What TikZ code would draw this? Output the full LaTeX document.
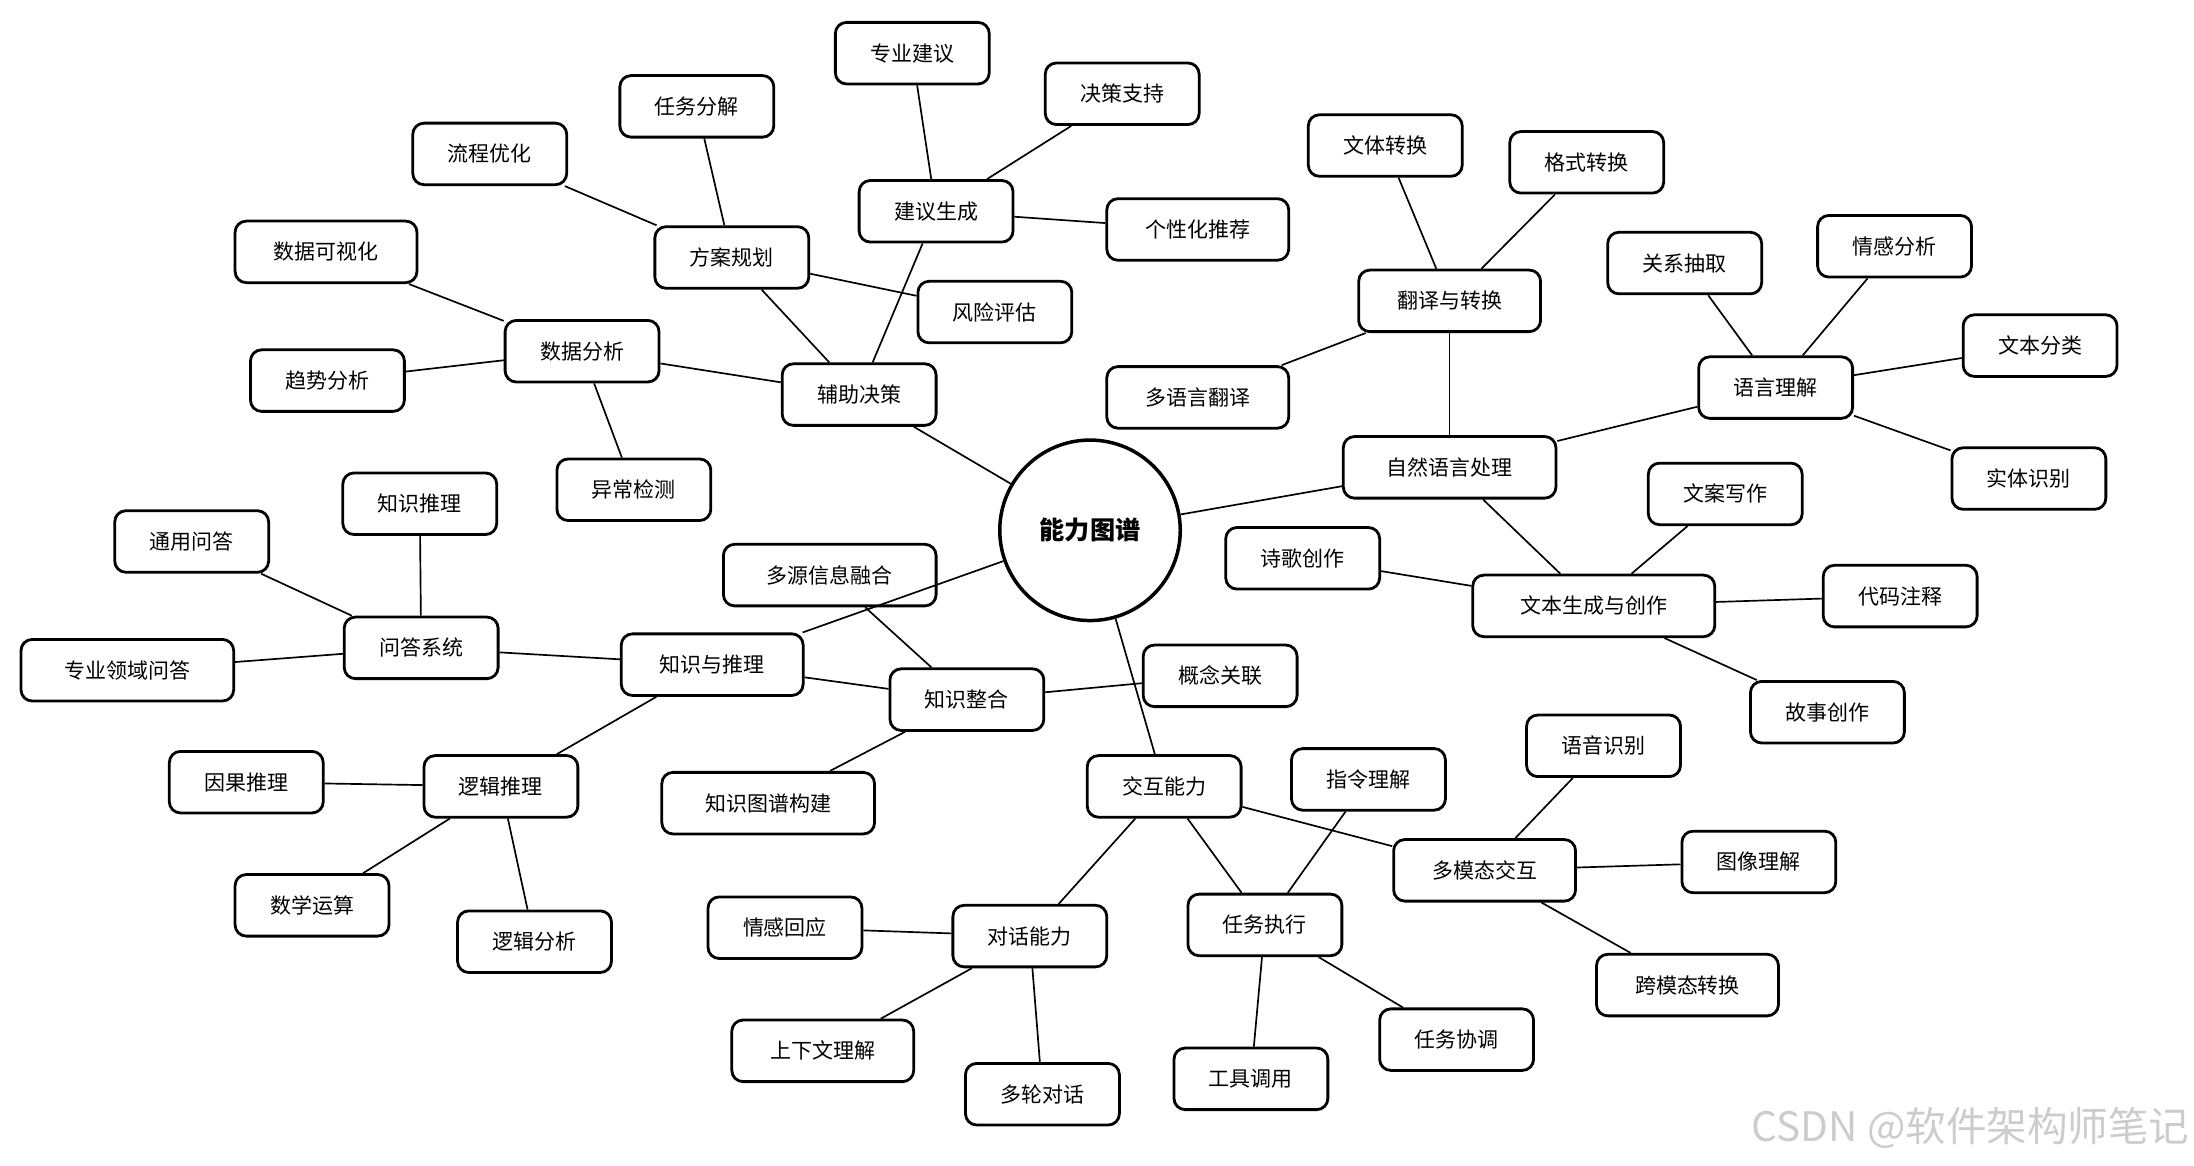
\documentclass[tikz,border=0pt]{standalone}
\usepackage{fontspec}
\setmainfont{Noto Sans CJK SC}
\begin{document}
\begin{tikzpicture}[x=1pt,y=-1pt,
  box/.style={draw=black, line width=2pt, rounded corners=8pt, fill=white,
    minimum height=44pt, minimum width=110pt, inner xsep=5pt, inner ysep=0pt,
    font=\fontsize{15}{18}\selectfont},
  wfive/.style={box, minimum width=130pt},
  wsix/.style={box, minimum width=152pt},
  wseven/.style={box, minimum width=173pt},
  hub/.style={draw=black, line width=2.5pt, circle, fill=white, minimum size=129pt,
    inner sep=0pt, font=\fontsize{18}{21}\selectfont\bfseries},
  link/.style={draw=black, line width=1.2pt}]
\useasboundingbox (0,0) rectangle (1568,833);
% hub
\node[hub] (c) at (779,379) {能力图谱};
% decision branch
\node[box] (fzjc) at (614,282) {辅助决策};
\node[box] (fagh) at (523,184) {方案规划};
\node[box] (jysc) at (669,151) {建议生成};
\node[box] (sjfx) at (416,251) {数据分析};
\node[box] (rwfj) at (498,76) {任务分解};
\node[box] (lcyh) at (350,110) {流程优化};
\node[box] (fxpg) at (711,223) {风险评估};
\node[box] (zyjy) at (652,38) {专业建议};
\node[box] (jczc) at (802,67) {决策支持};
\node[wfive] (gxhtj) at (856,164) {个性化推荐};
\node[wfive] (sjksh) at (233,180) {数据可视化};
\node[box] (qsfx) at (234,272) {趋势分析};
\node[box] (ycjc) at (453,350) {异常检测};
% knowledge branch
\node[wfive] (zsyl) at (509,475) {知识与推理};
\node[box] (wdxt) at (301,463) {问答系统};
\node[box] (ljtl) at (358,562) {逻辑推理};
\node[box] (zszh) at (691,500) {知识整合};
\node[box] (zstl) at (300,360) {知识推理};
\node[box] (tywd) at (137,387) {通用问答};
\node[wsix] (zylywd) at (91,479) {专业领域问答};
\node[wsix] (dyxx) at (593,411) {多源信息融合};
\node[box] (gngl) at (872,483) {概念关联};
\node[wsix] (zstp) at (549,574) {知识图谱构建};
\node[box] (ygtl) at (176,559) {因果推理};
\node[box] (sxys) at (223,647) {数学运算};
\node[box] (ljfx) at (382,673) {逻辑分析};
% interaction branch
\node[box] (hhnl) at (832,562) {交互能力};
\node[box] (dhnl) at (736,669) {对话能力};
\node[box] (rwzx) at (904,661) {任务执行};
\node[wfive] (dmt) at (1061,622) {多模态交互};
\node[box] (qghy) at (561,663) {情感回应};
\node[wfive] (sxwlj) at (588,751) {上下文理解};
\node[box] (dldh) at (745,782) {多轮对话};
\node[box] (zllj) at (978,557) {指令理解};
\node[box] (gjdy) at (894,771) {工具调用};
\node[box] (rwxt) at (1041,743) {任务协调};
\node[box] (yysb) at (1146,533) {语音识别};
\node[box] (txlj) at (1257,616) {图像理解};
\node[wfive] (kmt) at (1206,704) {跨模态转换};
% NLP branch
\node[wsix] (zryy) at (1036,334) {自然语言处理};
\node[wfive] (fyzh) at (1036,215) {翻译与转换};
\node[box] (yylj) at (1269,277) {语言理解};
\node[wseven] (wbsc) at (1139,433) {文本生成与创作};
\node[box] (wtzh) at (990,104) {文体转换};
\node[box] (gszh) at (1134,116) {格式转换};
\node[wfive] (dyyfy) at (856,284) {多语言翻译};
\node[box] (gxcq) at (1204,188) {关系抽取};
\node[box] (qgfx) at (1354,176) {情感分析};
\node[box] (wbfl) at (1458,247) {文本分类};
\node[box] (stsb) at (1450,342) {实体识别};
\node[box] (waxz) at (1233,353) {文案写作};
\node[box] (sgcz) at (931,399) {诗歌创作};
\node[box] (dmzs) at (1358,426) {代码注释};
\node[box] (gscz) at (1306,509) {故事创作};
% watermark
\node[font=\fontsize{29}{32}\selectfont, text=black!20, anchor=east, inner sep=0pt] (wm) at (1565,806) {CSDN @软件架构师笔记};
% connectors
\foreach \a/\b in {c/fzjc, c/zsyl, c/hhnl, c/zryy,
  fzjc/fagh, fzjc/jysc, fzjc/sjfx,
  fagh/rwfj, fagh/lcyh, fagh/fxpg,
  jysc/zyjy, jysc/jczc, jysc/gxhtj,
  sjfx/sjksh, sjfx/qsfx, sjfx/ycjc,
  zsyl/wdxt, zsyl/ljtl, zsyl/zszh,
  wdxt/zstl, wdxt/tywd, wdxt/zylywd,
  zszh/dyxx, zszh/gngl, zszh/zstp,
  ljtl/ygtl, ljtl/sxys, ljtl/ljfx,
  hhnl/dhnl, hhnl/rwzx, hhnl/dmt,
  dhnl/qghy, dhnl/sxwlj, dhnl/dldh,
  rwzx/zllj, rwzx/gjdy, rwzx/rwxt,
  dmt/yysb, dmt/txlj, dmt/kmt,
  zryy/fyzh, zryy/yylj, zryy/wbsc,
  fyzh/wtzh, fyzh/gszh, fyzh/dyyfy,
  yylj/gxcq, yylj/qgfx, yylj/wbfl, yylj/stsb,
  wbsc/waxz, wbsc/sgcz, wbsc/dmzs, wbsc/gscz}
  \draw[link] (\a) -- (\b);
\end{tikzpicture}
\end{document}
